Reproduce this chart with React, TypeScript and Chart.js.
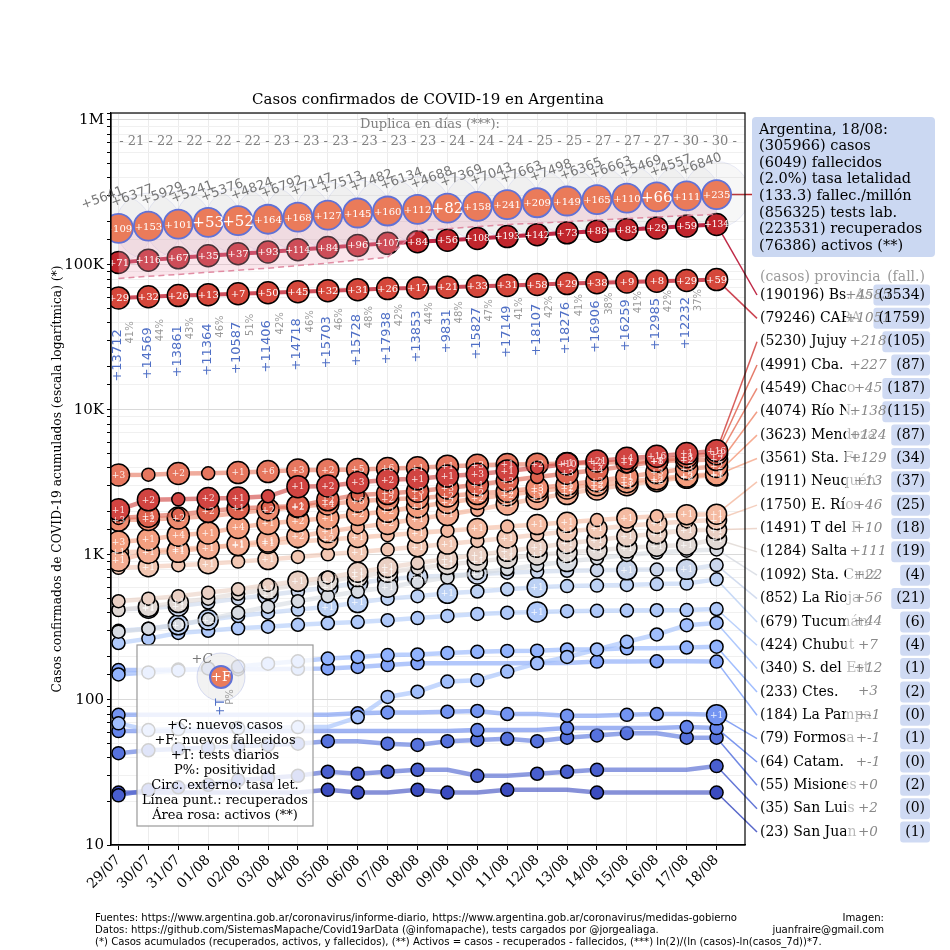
import React, { useEffect, useRef } from 'react';
import { Chart, registerables } from 'chart.js';

Chart.register(...registerables);

// ---------------- data ----------------
const DATES = ['29/07', '30/07', '31/07', '01/08', '02/08', '03/08', '04/08', '05/08', '06/08', '07/08', '08/08', '09/08', '10/08', '11/08', '12/08', '13/08', '14/08', '15/08', '16/08', '17/08', '18/08'];
const Y_TICK_LABELS = ['10', '100', '1K', '10K', '100K', '1M'];
const DOUBLING_DAYS = [21, 22, 22, 22, 22, 23, 23, 23, 23, 23, 23, 24, 24, 24, 25, 25, 27, 27, 27, 30, 30];

const ARG_CASES = [178996, 185373, 191302, 196543, 201919, 206743, 213535, 220682, 228195, 235677, 241811, 246499, 253868, 260911, 268574, 276072, 282437, 289100, 294569, 299126, 305966];
const ARG_NEW_CASES = [5641, 6377, 5929, 5241, 5376, 4824, 6792, 7147, 7513, 7482, 6134, 4688, 7369, 7043, 7663, 7498, 6365, 6663, 5469, 4557, 6840];
const ARG_NEW_DEATHS = [109, 153, 101, 53, 52, 164, 168, 127, 145, 160, 112, 82, 158, 241, 209, 149, 165, 110, 66, 111, 235];
const ARG_RECOVERED = [80800, 83500, 86000, 89000, 92000, 95000, 99000, 103000, 108000, 113000, 172000, 178000, 184000, 190000, 194000, 199000, 204000, 209000, 214000, 219000, 223531];
const ARG_TESTS = [13712, 14569, 13861, 11364, 10587, 11406, 14718, 15703, 15728, 17938, 13853, 9831, 15827, 17149, 18107, 18276, 16906, 16259, 12985, 12232, null];
const ARG_POSITIVITY = [41, 44, 43, 46, 51, 42, 46, 46, 48, 42, 44, 48, 47, 41, 42, 41, 38, 41, 42, 37, null];
const ARG_TOTAL_DEATHS = 6049;
const ARG_TOTAL_TESTS = 856325;
const ARG_POPULATION = 45376763;

const BSAS = [104000, 108000, 112000, 115800, 119500, 123000, 127500, 132000, 136500, 141000, 144500, 148000, 152500, 157000, 161800, 166500, 171000, 175500, 180000, 185611, 190196];
const BSAS_ND = [71, 116, 67, 35, 37, 93, 114, 84, 96, 107, 84, 56, 108, 193, 142, 73, 88, 83, 29, 59, 134];
const CABA = [59300, 60400, 61500, 62400, 63300, 64300, 65400, 66500, 67600, 68700, 69500, 70300, 71300, 72300, 73400, 74400, 75500, 76300, 77200, 78195, 79246];
const CABA_ND = [29, 32, 26, 13, 7, 50, 45, 32, 31, 26, 17, 21, 33, 31, 58, 29, 38, 9, 8, 29, 59];

const JUJUY = [2050, 2400, 2420, 2450, 2470, 2540, 2960, 2990, 3160, 3300, 3350, 3500, 3600, 3800, 4000, 4250, 4450, 4650, 4800, 5012, 5230];
const CBA = [1800, 1850, 1900, 2000, 2100, 2130, 2180, 2400, 2590, 2650, 2750, 2900, 3050, 3250, 3450, 3650, 3850, 4100, 4450, 4764, 4991];
const CHACO = [3560, 3580, 3650, 3660, 3700, 3760, 3850, 3860, 3880, 3950, 3990, 4100, 4150, 4200, 4230, 4280, 4320, 4380, 4440, 4504, 4549];
const RIO_N = [1740, 1760, 1800, 1850, 1950, 2050, 2150, 2250, 2350, 2420, 2460, 2550, 2650, 2750, 2900, 3050, 3250, 3450, 3700, 3936, 4074];
const MENDOZA = [1230, 1280, 1370, 1420, 1550, 1650, 1720, 1800, 1900, 2000, 2150, 2300, 2450, 2600, 2750, 2900, 3050, 3200, 3350, 3499, 3623];
const STA_FE = [920, 1040, 1060, 1120, 1180, 1250, 1340, 1450, 1550, 1650, 1770, 1900, 2050, 2250, 2450, 2650, 2850, 3050, 3250, 3432, 3561];
const NEUQUEN = [1040, 1060, 1100, 1130, 1160, 1200, 1240, 1280, 1320, 1370, 1420, 1470, 1520, 1570, 1620, 1680, 1740, 1800, 1850, 1898, 1911];
const E_RIOS = [815, 830, 850, 870, 900, 930, 970, 1010, 1050, 1090, 1140, 1190, 1250, 1310, 1380, 1450, 1520, 1590, 1650, 1704, 1750];
const T_DEL_F = [480, 500, 520, 550, 580, 620, 660, 700, 760, 820, 880, 940, 1000, 1060, 1130, 1200, 1270, 1340, 1400, 1481, 1491];
const SALTA = [417, 440, 470, 500, 540, 580, 620, 660, 710, 760, 810, 860, 900, 950, 1000, 1040, 1080, 1120, 1150, 1173, 1284];
const STA_CRUZ = [296, 310, 330, 360, 400, 440, 480, 520, 560, 600, 650, 700, 750, 800, 850, 900, 950, 1000, 1040, 1070, 1092];
const LA_RIOJA = [420, 430, 445, 470, 500, 530, 560, 600, 640, 680, 708, 720, 740, 755, 768, 778, 785, 790, 793, 796, 852];
const TUCUMAN = [300, 310, 330, 357, 380, 400, 420, 440, 470, 500, 520, 544, 560, 580, 600, 610, 615, 622, 630, 635, 679];
const CHUBUT = [247, 265, 290, 300, 312, 320, 330, 338, 345, 355, 367, 380, 392, 400, 405, 410, 412, 414, 416, 417, 424];
const S_DEL_EST = [69, 62, 63, 63, 64, 64, 65, 65, 76, 105, 114, 134, 137, 157, 179, 198, 223, 252, 283, 328, 340];
const CTES = [150, 155, 160, 165, 170, 178, 185, 193, 198, 204, 206, 211, 215, 218, 219, 223, 223, 227, 227, 230, 233];
const LA_PAMPA = [161, 161, 162, 162, 163, 163, 164, 165, 169, 174, 179, 179, 179, 179, 180, 180, 184, 184, 185, 185, 184];
const FORMOSA = [79, 79, 79, 79, 79, 79, 79, 79, 81, 82, 82, 83, 84, 80, 80, 78, 78, 79, 80, 80, 79];
const CATAM = [61, 61, 61, 61, 61, 61, 61, 61, 61, 61, 61, 61, 62, 62, 62, 64, 64, 64, 64, 65, 64];
const MISIONES = [43, 45, 46, 47, 48, 49, 50, 52, 52, 50, 49, 52, 53, 54, 52, 55, 57, 59, 59, 55, 55];
const SAN_LUIS = [22, 24, 25, 26, 28, 29, 30, 32, 31, 32, 33, 33, 30, 30, 31, 32, 33, 33, 33, 33, 35];
const SAN_JUAN = [23, 23, 23, 23, 23, 23, 23, 24, 23, 23, 24, 23, 23, 24, 24, 24, 23, 23, 23, 23, 23];

const JUJUY_ND = [1, 2, 0, 2, 1, 0, 1, 2, 3, 2, 1, 1, 3, 1, 0, 10, 21, 4, 16, 1, 16];
const CBA_ND = [0, 1, 0, 2, 1, 0, 1, 2, 0, 9, 3, 3, 1, 3, 0, 3, 4, 0, 8, 3, 3];
const CHACO_ND = [3, 0, 2, 0, 1, 6, 3, 2, 5, 6, 1, 1, 3, 1, 2, 1, 2, 1, 1, 2, 2];
const RIO_N_ND = [3, 2, 2, 0, 0, 2, 2, 4, 6, 2, 1, 2, 2, 2, 3, 1, 2, 1, 3, 3, 2];
const MENDOZA_ND = [3, 1, 4, 1, 4, 1, 2, 1, 2, 2, 1, 2, 2, 2, 3, 2, 2, 3, 2, 3, 3];
const STA_FE_ND = [1, 1, 1, 1, 1, 1, 2, 1, 0, 2, 1, 1, 0, 1, 1, 1, 2, 1, 2, 2, 1];
const NEUQUEN_ND = [1, 0, 1, 0, 1, 1, 0, 2, 1, 0, 1, 0, 1, 0, 1, 1, 0, 1, 0, 1, 1];
const E_RIOS_ND = [0, 1, 0, 1, 0, 1, 0, 0, 1, 0, 1, 1, 0, 1, 0, 1, 1, 0, 1, 0, 1];
const T_DEL_F_ND = [0, 0, 0, 0, 0, 0, 1, 0, 1, 1, 0, 1, 1, 1, 1, 1, 1, 1, 1, 1, 1];
const SALTA_ND = [0, 1, 1, 0, 0, 1, 0, 1, 1, 1, 0, 1, 1, 1, 1, 1, 1, 1, 1, 1, 1];
const STA_CRUZ_ND = [0, 0, 0, 0, 0, 0, 0, 0, 0, 1, 0, 0, 0, 0, 0, 1, 0, 0, 0, 0, 0];
const LA_RIOJA_ND = [0, 1, 1, 0, 0, 1, 0, 1, 1, 1, 1, 0, 1, 0, 0, 0, 0, 1, 0, 1, 0];
const TUCUMAN_ND = [0, 0, 1, 2, 0, 0, 0, 1, 1, 0, 0, 1, 0, 0, 1, 0, 0, 0, 0, 0, 0];
const CHUBUT_ND = [0, 0, 0, 0, 0, 0, 0, 0, 0, 0, 0, 0, 0, 0, 1, 0, 0, 0, 0, 0, 0];
const S_DEL_EST_ND = [0, 0, 0, 0, 0, 0, 0, 0, 0, 0, 0, 0, 0, 0, 0, 0, 0, 0, 0, 0, 0];
const CTES_ND = [0, 0, 0, 0, 0, 0, 0, 0, 0, 0, 0, 0, 0, 0, 0, 0, 0, 0, 0, 0, 0];
const LA_PAMPA_ND = [0, 0, 0, 0, 0, 0, 0, 0, 0, 0, 0, 0, 0, 0, 0, 0, 0, 0, 0, 0, 0];
const FORMOSA_ND = [0, 0, 0, 0, 0, 0, 0, 0, 0, 0, 0, 0, 0, 0, 0, 0, 0, 0, 0, 0, 1];
const CATAM_ND = [0, 0, 0, 0, 0, 0, 0, 0, 0, 0, 0, 0, 0, 0, 0, 0, 0, 0, 0, 0, 0];
const MISIONES_ND = [0, 0, 0, 0, 0, 0, 0, 0, 0, 0, 0, 0, 0, 0, 0, 0, 0, 0, 0, 0, 0];
const SAN_LUIS_ND = [0, 0, 0, 0, 0, 0, 0, 0, 0, 0, 0, 0, 0, 0, 0, 0, 0, 0, 0, 0, 0];
const SAN_JUAN_ND = [0, 0, 0, 0, 0, 0, 0, 0, 0, 0, 0, 0, 0, 0, 0, 0, 0, 0, 0, 0, 0];

const REGION_NAMES = ['Bs. As.', 'CABA', 'Jujuy', 'Cba.', 'Chaco', 'Río N.', 'Mendoza', 'Sta. Fe', 'Neuquén', 'E. Ríos', 'T del F', 'Salta', 'Sta. Cruz', 'La Rioja', 'Tucumán', 'Chubut', 'S. del Est.', 'Ctes.', 'La Pampa', 'Formosa', 'Catam.', 'Misiones', 'San Luis', 'San Juan'];
const REGION_DEATHS = [3534, 1759, 105, 87, 187, 115, 87, 34, 37, 25, 18, 19, 4, 21, 6, 4, 1, 2, 0, 1, 0, 2, 0, 1];
const PROV_CASES = [JUJUY, CBA, CHACO, RIO_N, MENDOZA, STA_FE, NEUQUEN, E_RIOS, T_DEL_F, SALTA, STA_CRUZ, LA_RIOJA, TUCUMAN, CHUBUT, S_DEL_EST, CTES, LA_PAMPA, FORMOSA, CATAM, MISIONES, SAN_LUIS, SAN_JUAN];
const PROV_ND = [JUJUY_ND, CBA_ND, CHACO_ND, RIO_N_ND, MENDOZA_ND, STA_FE_ND, NEUQUEN_ND, E_RIOS_ND, T_DEL_F_ND, SALTA_ND, STA_CRUZ_ND, LA_RIOJA_ND, TUCUMAN_ND, CHUBUT_ND, S_DEL_EST_ND, CTES_ND, LA_PAMPA_ND, FORMOSA_ND, CATAM_ND, MISIONES_ND, SAN_LUIS_ND, SAN_JUAN_ND];

// ---------------- style ----------------
const SERIF = '"DejaVu Serif", serif';
const SANS = '"DejaVu Sans", sans-serif';
const COOLWARM = [[59, 76, 192], [98, 130, 234], [141, 176, 254], [184, 208, 249], [221, 221, 221], [245, 196, 173], [244, 154, 123], [222, 96, 77], [180, 4, 38]];
function coolwarm(t: number): number[] {
  const n = COOLWARM.length - 1;
  const p = Math.max(0, Math.min(1, t)) * n;
  const i = Math.min(n - 1, Math.floor(p));
  const f = p - i;
  return COOLWARM[i].map((c, j) => Math.round(c + (COOLWARM[i + 1][j] - c) * f));
}
const rgb = (c: number[], a = 1) => `rgba(${c[0]},${c[1]},${c[2]},${a})`;
const regionColor = (k: number) => coolwarm((REGION_NAMES.length - 1 - k) / (REGION_NAMES.length - 1));
const ARG_FILL = '#ea7b5a';
const ARG_EDGE = '#6172d6';

function markerRadius(vals: number[], nd: number[], big: number) {
  return vals.map((v, i) => {
    const show = i === 0 || i === vals.length - 1 || v !== vals[i - 1] || nd[i] > 0;
    if (!show) return 0;
    return nd[i] > 0 ? big : 6.5;
  });
}

const rowY = (k: number) => 295 + 23.35 * k;

const overlay = {
  id: 'overlay',
  beforeDatasetsDraw(chart: any) {
    const { ctx, chartArea: ca, scales } = chart;
    const px = (i: number) => scales.x.getPixelForValue(i);
    const py = (v: number) => scales.y.getPixelForValue(v);
    const last = DATES.length - 1;
    // connectors to right labels
    ctx.save();
    ctx.lineWidth = 1.6;
    ctx.strokeStyle = '#b8262c';
    ctx.beginPath();
    ctx.moveTo(px(last), py(ARG_CASES[last]));
    ctx.lineTo(752, py(ARG_CASES[last]));
    ctx.stroke();
    const all = [BSAS, CABA, ...PROV_CASES];
    all.forEach((vals, k) => {
      ctx.strokeStyle = rgb(regionColor(k), 0.85);
      ctx.lineWidth = 1.5;
      ctx.beginPath();
      ctx.moveTo(px(last), py(vals[last]));
      ctx.lineTo(757, rowY(k));
      ctx.stroke();
    });
    ctx.restore();
    // outer circles (fatality rate) for Argentina
    ctx.save();
    ctx.beginPath();
    ctx.rect(ca.left, ca.top, ca.right - ca.left, ca.bottom - ca.top);
    ctx.clip();
    ARG_CASES.forEach((v, i) => {
      ctx.beginPath();
      ctx.arc(px(i), py(v), 33, 0, Math.PI * 2);
      ctx.fillStyle = 'rgba(190,190,190,0.12)';
      ctx.fill();
      ctx.strokeStyle = 'rgba(130,145,220,0.16)';
      ctx.lineWidth = 1;
      ctx.stroke();
    });
    ctx.restore();
  },
  afterDatasetsDraw(chart: any) {
    const { ctx, chartArea: ca, scales } = chart;
    const px = (i: number) => scales.x.getPixelForValue(i);
    const py = (v: number) => scales.y.getPixelForValue(v);

    // labels inside circles (clipped to plot)
    ctx.save();
    ctx.beginPath();
    ctx.rect(ca.left, ca.top, ca.right - ca.left, ca.bottom - ca.top);
    ctx.clip();
    ctx.textAlign = 'center';
    ctx.textBaseline = 'middle';
    ctx.fillStyle = '#fff';
    ARG_NEW_DEATHS.forEach((d, i) => {
      const t = '+' + d;
      ctx.font = `${t.length <= 3 ? 15 : 10}px ${SERIF}`;
      ctx.fillText(t, px(i), py(ARG_CASES[i]) + 1);
    });
    [[BSAS, BSAS_ND], [CABA, CABA_ND]].forEach(([vals, nd]) => {
      nd.forEach((d: number, i: number) => {
        const t = '+' + d;
        ctx.font = `${t.length <= 3 ? 10 : 9}px ${SERIF}`;
        ctx.fillText(t, px(i), py(vals[i]) + 0.5);
      });
    });
    ctx.fillStyle = 'rgba(255,255,255,0.85)';
    ctx.font = `9px ${SERIF}`;
    PROV_CASES.forEach((vals, j) => {
      const nd = PROV_ND[j];
      vals.forEach((v, i) => {
        if (nd[i] > 0) ctx.fillText('+' + nd[i], px(i), py(v) + 0.5);
      });
    });
    ctx.restore();

    // daily new cases (grey, rotated)
    ctx.save();
    ctx.fillStyle = '#777';
    ctx.font = `13px ${SANS}`;
    ctx.textAlign = 'center';
    ctx.textBaseline = 'middle';
    ARG_NEW_CASES.forEach((n, i) => {
      ctx.save();
      ctx.translate(px(i) - 16, py(ARG_CASES[i]) - 30);
      ctx.rotate((-20 * Math.PI) / 180);
      ctx.fillText('+' + n, 0, 0);
      ctx.restore();
    });
    ctx.restore();

    // daily tests + positivity (vertical)
    ARG_TESTS.forEach((t, i) => {
      if (t == null) return;
      const ax = px(i);
      const ay = py(ARG_CASES[i]) + 101;
      ctx.save();
      ctx.translate(ax - 1, ay);
      ctx.rotate(-Math.PI / 2);
      ctx.textAlign = 'right';
      ctx.textBaseline = 'middle';
      ctx.font = `13px ${SANS}`;
      ctx.fillStyle = '#4f6fc6';
      ctx.fillText('+' + t, 0, 0);
      ctx.restore();
      ctx.save();
      ctx.translate(ax + 12, ay - 8);
      ctx.rotate(-Math.PI / 2);
      ctx.textAlign = 'right';
      ctx.textBaseline = 'middle';
      ctx.font = `10px ${SANS}`;
      ctx.fillStyle = '#999';
      ctx.fillText(ARG_POSITIVITY[i] + '%', 0, 0);
      ctx.restore();
    });

    // legend box
    ctx.save();
    ctx.fillStyle = 'rgba(255,255,255,0.82)';
    ctx.fillRect(137, 645, 176, 181);
    ctx.strokeStyle = '#999';
    ctx.lineWidth = 1.2;
    ctx.strokeRect(137, 645, 176, 181);
    ctx.beginPath();
    ctx.arc(221, 677, 24, 0, Math.PI * 2);
    ctx.fillStyle = 'rgba(190,190,190,0.2)';
    ctx.fill();
    ctx.strokeStyle = 'rgba(130,145,220,0.3)';
    ctx.lineWidth = 1;
    ctx.stroke();
    ctx.beginPath();
    ctx.arc(221, 677, 11, 0, Math.PI * 2);
    ctx.fillStyle = ARG_FILL;
    ctx.fill();
    ctx.strokeStyle = ARG_EDGE;
    ctx.lineWidth = 2;
    ctx.stroke();
    ctx.textAlign = 'center';
    ctx.textBaseline = 'middle';
    ctx.fillStyle = '#fff';
    ctx.font = `13px ${SERIF}`;
    ctx.fillText('+F', 221, 678);
    ctx.fillStyle = '#777';
    ctx.font = `italic 13px ${SERIF}`;
    ctx.fillText('+C', 202, 660);
    ctx.save();
    ctx.translate(221, 707);
    ctx.rotate(-Math.PI / 2);
    ctx.fillStyle = '#4f6fc6';
    ctx.font = `12px ${SANS}`;
    ctx.fillText('+T', 0, 0);
    ctx.restore();
    ctx.save();
    ctx.translate(230, 697);
    ctx.rotate(-Math.PI / 2);
    ctx.fillStyle = '#999';
    ctx.font = `10px ${SANS}`;
    ctx.fillText('P%', 0, 0);
    ctx.restore();
    const legendLines = ['+C: nuevos casos', '+F: nuevos fallecidos', '+T: tests diarios', 'P%: positividad', 'Circ. externo: tasa let.', 'Línea punt.: recuperados', 'Área rosa: activos (**)'];
    ctx.fillStyle = '#000';
    ctx.font = `13px ${SERIF}`;
    legendLines.forEach((l, i) => ctx.fillText(l, 225, 726 + 14.9 * i));
    ctx.restore();

    // plot frame
    ctx.save();
    ctx.strokeStyle = '#000';
    ctx.lineWidth = 1.2;
    ctx.strokeRect(ca.left, ca.top, ca.right - ca.left, ca.bottom - ca.top);
    ctx.restore();
  },
  afterDraw(chart: any) {
    const { ctx, chartArea: ca } = chart;
    const last = DATES.length - 1;
    const cx = (ca.left + ca.right) / 2;
    ctx.save();
    ctx.textAlign = 'center';
    ctx.textBaseline = 'middle';
    ctx.fillStyle = '#000';
    ctx.font = `15px ${SERIF}`;
    ctx.fillText('Casos confirmados de COVID-19 en Argentina', cx, 100);
    ctx.fillStyle = '#808080';
    ctx.font = `13px ${SERIF}`;
    ctx.fillText('Duplica en días (***):', cx + 2, 125);
    ctx.fillText('- ' + DOUBLING_DAYS.join(' - ') + ' -', cx, 142);

    // y axis title
    const yTitle = 'Casos confirmados de COVID-19 acumulados (escala logarítmica) (*)';
    ctx.font = `13px ${SERIF}`;
    const fs = (13 * 427) / ctx.measureText(yTitle).width;
    ctx.save();
    ctx.translate(58, (ca.top + ca.bottom) / 2);
    ctx.rotate(-Math.PI / 2);
    ctx.fillStyle = '#000';
    ctx.font = `${fs.toFixed(2)}px ${SERIF}`;
    ctx.fillText(yTitle, 0, 0);
    ctx.restore();

    // Argentina summary box
    const argDeathsRate = ((ARG_TOTAL_DEATHS / ARG_CASES[last]) * 100).toFixed(1);
    const perMillion = ((ARG_TOTAL_DEATHS / ARG_POPULATION) * 1e6).toFixed(1);
    const active = ARG_CASES[last] - ARG_RECOVERED[last] - ARG_TOTAL_DEATHS;
    const summary = [
      `Argentina, ${DATES[last]}:`,
      `(${ARG_CASES[last]}) casos`,
      `(${ARG_TOTAL_DEATHS}) fallecidos`,
      `(${argDeathsRate}%) tasa letalidad`,
      `(${perMillion}) fallec./millón`,
      `(${ARG_TOTAL_TESTS}) tests lab.`,
      `(${ARG_RECOVERED[last]}) recuperados`,
      `(${active}) activos (**)`,
    ];
    ctx.fillStyle = '#cbd8f2';
    ctx.beginPath();
    ctx.roundRect(752, 117, 183, 140, 4);
    ctx.fill();
    ctx.fillStyle = '#000';
    ctx.textAlign = 'left';
    ctx.font = `14.5px ${SERIF}`;
    summary.forEach((s, i) => ctx.fillText(s, 759, 130 + 16.55 * i));

    // province header
    ctx.fillStyle = '#999';
    ctx.font = `14px ${SERIF}`;
    ctx.fillText('(casos) provincia', 760, 277);
    ctx.textAlign = 'right';
    ctx.fillText('(fall.)', 925, 277);

    // province rows
    const all = [BSAS, CABA, ...PROV_CASES];
    all.forEach((vals, k) => {
      const y = rowY(k);
      ctx.textAlign = 'left';
      ctx.fillStyle = '#000';
      ctx.font = `14px ${SERIF}`;
      ctx.fillText(`(${vals[last]}) ${REGION_NAMES[k]}`, 760, y);
      ctx.fillStyle = 'rgba(255,255,255,0.72)';
      ctx.fillRect(846, y - 10, 44, 20);
      const fall = `(${REGION_DEATHS[k]})`;
      ctx.font = `14px ${SERIF}`;
      const w = ctx.measureText(fall).width;
      ctx.fillStyle = '#cfdaf3';
      ctx.beginPath();
      ctx.roundRect(925 - w - 5, y - 10.5, w + 10, 21, 3);
      ctx.fill();
      ctx.textAlign = 'center';
      ctx.fillStyle = '#888';
      ctx.font = `italic 13.5px ${SERIF}`;
      ctx.fillText('+' + (vals[last] - vals[last - 1]), 868, y);
      ctx.textAlign = 'right';
      ctx.fillStyle = '#000';
      ctx.font = `14px ${SERIF}`;
      ctx.fillText(fall, 925, y);
    });

    // footer
    const f1 = 'Fuentes: https://www.argentina.gob.ar/coronavirus/informe-diario, https://www.argentina.gob.ar/coronavirus/medidas-gobierno';
    const f2 = 'Datos: https://github.com/SistemasMapache/Covid19arData (@infomapache), tests cargados por @jorgealiaga.';
    const f3 = '(*) Casos acumulados (recuperados, activos, y fallecidos), (**) Activos = casos - recuperados - fallecidos, (***) ln(2)/(ln (casos)-ln(casos_7d))*7.';
    ctx.font = `11px "DejaVu Sans Condensed", "Liberation Sans Narrow", "DejaVu Sans", sans-serif`;
    const sx = 642 / ctx.measureText(f1).width;
    ctx.fillStyle = '#000';
    const drawScaled = (t: string, x: number, y: number, align: string) => {
      ctx.save();
      ctx.translate(x, y);
      ctx.scale(sx, 1);
      ctx.textAlign = align;
      ctx.fillText(t, 0, 0);
      ctx.restore();
    };
    drawScaled(f1, 95, 918, 'left');
    drawScaled(f2, 95, 930, 'left');
    drawScaled(f3, 95, 942, 'left');
    drawScaled('Imagen:', 884, 918, 'right');
    drawScaled('juanfraire@gmail.com', 884, 930, 'right');
    ctx.restore();
  },
};

export default function App() {
  const canvasRef = useRef<HTMLCanvasElement | null>(null);
  useEffect(() => {
    const canvas = canvasRef.current;
    if (!canvas) return;
    const toXY = (vals: number[]) => vals.map((v, i) => ({ x: i, y: v }));
    const provDatasets = PROV_CASES.map((vals, j) => {
      const c = regionColor(j + 2);
      return {
        label: REGION_NAMES[j + 2],
        data: toXY(vals),
        borderColor: rgb(c, 0.62),
        borderWidth: 4.5,
        pointRadius: markerRadius(vals, PROV_ND[j], j < 6 ? 11 : 10),
        pointBackgroundColor: rgb(c, 1),
        pointBorderColor: '#000',
        pointBorderWidth: 1.5,
        tension: 0,
      };
    });
    const bsColor = regionColor(0);
    const cabaColor = regionColor(1);
    const chart = new Chart(canvas, {
      type: 'line',
      data: {
        datasets: [
          {
            label: 'Argentina',
            data: toXY(ARG_CASES),
            borderColor: ARG_FILL,
            borderWidth: 2,
            pointRadius: 14.5,
            pointBackgroundColor: ARG_FILL,
            pointBorderColor: ARG_EDGE,
            pointBorderWidth: 1.8,
          },
          {
            label: 'Recuperados',
            data: toXY(ARG_RECOVERED),
            borderColor: 'rgba(222,130,155,0.9)',
            borderDash: [6, 4],
            borderWidth: 1.5,
            pointRadius: 0,
            fill: '-1',
            backgroundColor: 'rgba(240,170,190,0.3)',
          },
          {
            label: 'Bs. As.',
            data: toXY(BSAS),
            borderColor: rgb(bsColor, 0.85),
            borderWidth: 4,
            pointRadius: 11,
            pointBackgroundColor: '#c1262d',
            pointBorderColor: '#000',
            pointBorderWidth: 1.5,
          },
          {
            label: 'CABA',
            data: toXY(CABA),
            borderColor: rgb(cabaColor, 0.8),
            borderWidth: 4,
            pointRadius: 11,
            pointBackgroundColor: '#d5473b',
            pointBorderColor: '#000',
            pointBorderWidth: 1.5,
          },
          ...provDatasets,
        ],
      },
      options: {
        responsive: false,
        animation: false,
        events: [],
        layout: { padding: { left: 50, right: 205, top: 113, bottom: 45 } },
        plugins: { legend: { display: false }, tooltip: { enabled: false }, title: { display: false } },
        scales: {
          x: {
            type: 'linear',
            min: -0.25,
            max: 20.95,
            afterFit: (s: any) => {
              s.height = 60;
            },
            ticks: {
              stepSize: 1,
              includeBounds: false,
              autoSkip: false,
              minRotation: 45,
              maxRotation: 45,
              color: '#000',
              padding: 2,
              font: { family: SERIF, size: 14 },
              callback: (v: any) => (Number.isInteger(v) && DATES[v] ? DATES[v] : ''),
            },
            grid: { color: '#ececec', tickColor: '#000', tickLength: 5 },
            border: { color: '#000', width: 1.2 },
          },
          y: {
            type: 'logarithmic',
            min: 10,
            max: 1117000,
            afterFit: (s: any) => {
              s.width = 61;
            },
            ticks: {
              autoSkip: false,
              color: '#000',
              padding: 3,
              font: { family: SERIF, size: 15 },
              callback: (v: any) => {
                const l = Math.log10(Number(v));
                const r = Math.round(l);
                return Math.abs(l - r) < 1e-6 && r >= 1 && r <= 6 ? Y_TICK_LABELS[r - 1] : '';
              },
            },
            grid: {
              color: (c: any) => {
                const v = c.tick ? c.tick.value : 0;
                const l = Math.log10(v);
                return Math.abs(l - Math.round(l)) < 1e-6 ? '#d9d9d9' : '#f0f0f0';
              },
              tickColor: '#000',
              tickLength: 4,
            },
            border: { color: '#000', width: 1.2 },
          },
        },
      },
      plugins: [overlay],
    } as any);
    return () => chart.destroy();
  }, []);
  return (
    <div style={{ position: 'absolute', left: 0, top: 0, width: 950, height: 950, background: '#fff' }}>
      <canvas ref={canvasRef} width={950} height={950} style={{ width: 950, height: 950, display: 'block' }} />
    </div>
  );
}
